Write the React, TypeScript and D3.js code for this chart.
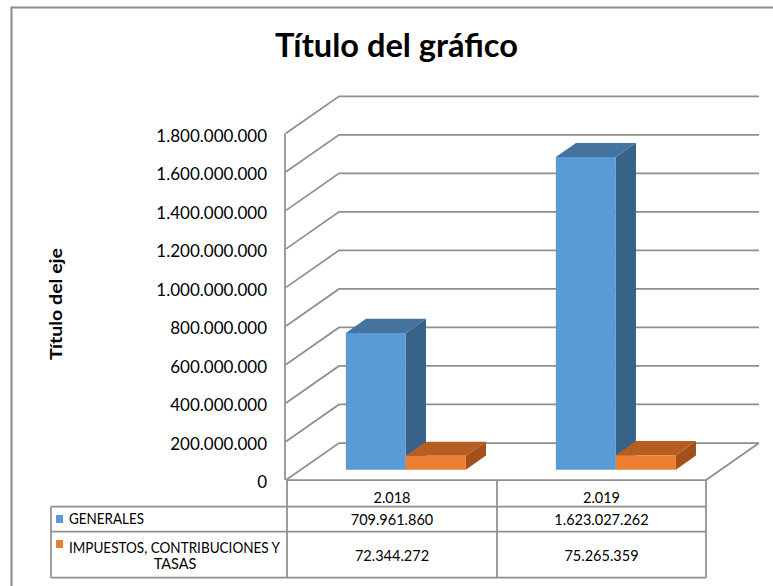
import React from "react";
import * as d3 from "d3";

const categories = ["2.018", "2.019"];
const seriesNames = ["GENERALES", "IMPUESTOS, CONTRIBUCIONES Y TASAS"];
const generales = [709961860, 1623027262];
const impuestos = [72344272, 75265359];
const yTicks = [0, 200000000, 400000000, 600000000, 800000000, 1000000000, 1200000000, 1400000000, 1600000000, 1800000000];
const tableGenerales = ["709.961.860", "1.623.027.262"];
const tableImpuestos = ["72.344.272", "75.265.359"];

const FONT = "Lato, 'Open Sans', sans-serif";
const GRID = "#8f8f8f";

export default function App() {
  const W = 773, H = 586;
  const plotL = 286, plotR = 706, floorY = 480;
  const DX = 53, DY = 37;
  const yFront = d3.scaleLinear().domain([0, 1800000000]).range([floorY, 133.3]);
  const x = d3.scaleBand<string>().domain(categories).range([plotL, plotR]);
  const fmt = (v: number) => d3.format(",")(v).replace(/,/g, ".");

  const z0 = 0.28, z1 = 0.66;
  const barW = 60;
  const P = (xf: number, v: number, z: number): [number, number] => [xf + z * DX, yFront(v) - z * DY];
  const poly = (pts: [number, number][]) => "M" + pts.map((p) => p.join(",")).join("L") + "Z";

  const series = [
    { values: generales, front: "#5b9bd5", top: "#44739f", side: "#386388" },
    { values: impuestos, front: "#ed7d31", top: "#b65e22", side: "#a2511c" },
  ];

  const bars: JSX.Element[] = [];
  categories.forEach((c, ci) => {
    const groupStart = (x(c) as number) + (x.bandwidth() - barW * series.length) / 2;
    series.forEach((s, si) => {
      const v = s.values[ci];
      const xl = groupStart + si * barW;
      const xr = xl + barW;
      const front = poly([P(xl, 0, z0), P(xr, 0, z0), P(xr, v, z0), P(xl, v, z0)]);
      const top = poly([P(xl, v, z0), P(xr, v, z0), P(xr, v, z1), P(xl, v, z1)]);
      const side = poly([P(xr, 0, z0), P(xr, 0, z1), P(xr, v, z1), P(xr, v, z0)]);
      bars.push(
        <g key={c + si}>
          <path d={side} fill={s.side} />
          <path d={top} fill={s.top} />
          <path d={front} fill={s.front} />
        </g>
      );
    });
  });

  const colX = [51, plotL + 1, (x("2.019") as number) + 1, plotR];
  const rowY = [floorY, 506.7, 531.7, 577.7];

  return (
    <svg width={W} height={H} style={{ position: "absolute", left: 0, top: 0, background: "#fff" }}>
      <rect x={11.5} y={7.5} width={800} height={700} fill="#fff" stroke="#8a8a8a" strokeWidth={2} />
      <text x={396.5} y={57} textAnchor="middle" fontFamily={FONT} fontWeight="bold" fontSize={32} textLength={243} lengthAdjust="spacingAndGlyphs" fill="#000">
        Título del gráfico
      </text>
      {yTicks.map((t) => (
        <path key={t} d={`M${plotL},${yFront(t)}L${plotL + DX},${yFront(t) - DY}L${plotR + DX},${yFront(t) - DY}`} fill="none" stroke={GRID} strokeWidth={1.75} />
      ))}
      <path d={`M${plotL},${floorY}L${plotR},${floorY}L${plotR + DX},${floorY - DY}`} fill="none" stroke={GRID} strokeWidth={1.75} />
      <line x1={plotL - 1} x2={plotL - 1} y1={yFront(1800000000)} y2={floorY} stroke={GRID} strokeWidth={1.75} />
      {bars}
      {yTicks.map((t) => (
        <text key={"l" + t} x={267} y={yFront(t) + 4} textAnchor="end" dominantBaseline="middle" fontFamily={FONT} fontSize={17} fill="#000">
          {fmt(t)}
        </text>
      ))}
      <text transform="translate(62,304) rotate(-90)" textAnchor="middle" fontFamily={FONT} fontWeight="bold" fontSize={17} textLength={112} lengthAdjust="spacingAndGlyphs" fill="#000">
        Título del eje
      </text>
      <g stroke={GRID} strokeWidth={1.75} fill="none">
        {colX.slice(1).map((cx, i) => (
          <line key={"v" + i} x1={cx} x2={cx} y1={floorY} y2={rowY[3]} />
        ))}
        <line x1={colX[0]} x2={colX[0]} y1={rowY[1]} y2={rowY[3]} />
        {rowY.slice(1).map((ry, i) => (
          <line key={"h" + i} x1={colX[0]} x2={colX[3]} y1={ry} y2={ry} />
        ))}
      </g>
      {categories.map((c, i) => (
        <text key={"c" + c} x={(colX[i + 1] + colX[i + 2]) / 2} y={503} textAnchor="middle" fontFamily={FONT} fontSize={14.5} fill="#000">
          {c}
        </text>
      ))}
      {tableGenerales.map((v, i) => (
        <text key={"g" + i} x={(colX[i + 1] + colX[i + 2]) / 2} y={525} textAnchor="middle" fontFamily={FONT} fontSize={14.5} fill="#000">
          {v}
        </text>
      ))}
      {tableImpuestos.map((v, i) => (
        <text key={"p" + i} x={(colX[i + 1] + colX[i + 2]) / 2} y={561} textAnchor="middle" fontFamily={FONT} fontSize={14.5} fill="#000">
          {v}
        </text>
      ))}
      <rect x={56} y={515} width={7} height={8} fill={series[0].front} />
      <text x={69} y={523.5} fontFamily={FONT} fontSize={14.5} fill="#000" textLength={75} lengthAdjust="spacingAndGlyphs">{seriesNames[0]}</text>
      <rect x={56} y={540} width={7} height={8} fill={series[1].front} />
      <text x={69} y={553} fontFamily={FONT} fontSize={14.5} fill="#000" textLength={211} lengthAdjust="spacingAndGlyphs">IMPUESTOS, CONTRIBUCIONES Y</text>
      <text x={175} y={569} textAnchor="middle" fontFamily={FONT} fontSize={14.5} fill="#000">TASAS</text>
    </svg>
  );
}
